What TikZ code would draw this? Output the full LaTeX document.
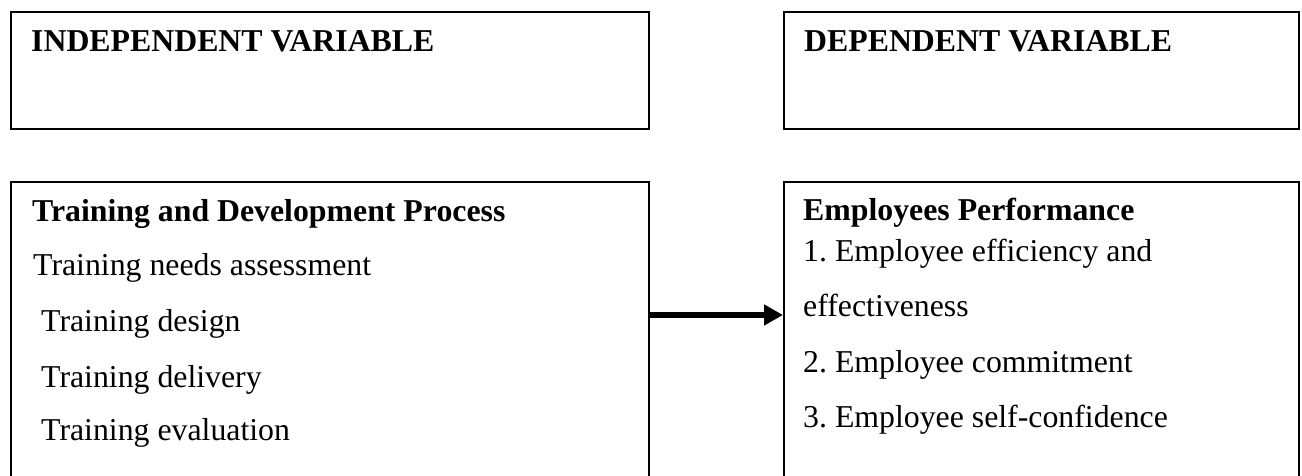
\documentclass[tikz,border=0pt]{standalone}
\usepackage{fontspec}
\setmainfont{Liberation Serif}
\usetikzlibrary{arrows.meta}
\frenchspacing
\tikzset{
  box/.style={draw=black, line width=2pt, rectangle, inner sep=0pt, anchor=north west},
  txt/.style={inner sep=0pt, anchor=base west, font=\fontsize{31.8}{38}\selectfont},
  bold/.style={txt, font=\fontsize{31.8}{38}\selectfont\bfseries},
  link/.style={line width=6pt, -{Triangle[length=19pt,width=20pt]}}
}
\begin{document}
\begin{tikzpicture}[x=1pt,y=1pt]
\useasboundingbox (0,0) rectangle (1302,476);
\fill[white] (0,0) rectangle (1302,476);
\clip (0,0) rectangle (1302,476);
% boxes
\node[box, minimum width=638pt, minimum height=117pt] (iv) at (10,465) {};
\node[box, minimum width=515pt, minimum height=117pt] (dv) at (783,465) {};
\node[box, minimum width=638pt, minimum height=330pt] (tdp) at (10,295) {};
\node[box, minimum width=515pt, minimum height=330pt] (ep) at (783,295) {};
% titles
\node[bold] (ivt) at (31,424) {INDEPENDENT VARIABLE};
\node[bold] (dvt) at (804,424) {DEPENDENT VARIABLE};
% left box text
\node[bold] (l0) at (32,254) {Training and Development Process};
\node[txt] (l1) at (33,200) {Training needs assessment};
\node[txt] (l2) at (41,144) {Training design};
\node[txt] (l3) at (41,88) {Training delivery};
\node[txt] (l4) at (41,35) {Training evaluation};
% right box text
\node[bold] (r0) at (803,255) {Employees Performance};
\node[txt] (r1) at (803,214) {1. Employee efficiency and};
\node[txt] (r2) at (803,159) {effectiveness};
\node[txt] (r3) at (803,103) {2. Employee commitment};
\node[txt] (r4) at (803,48) {3. Employee self-confidence};
% arrow
\coordinate (a0) at (tdp.east |- 0,161);
\coordinate (a1) at (ep.west |- 0,161);
\draw[link] (a0) -- (a1);
\end{tikzpicture}
\end{document}
